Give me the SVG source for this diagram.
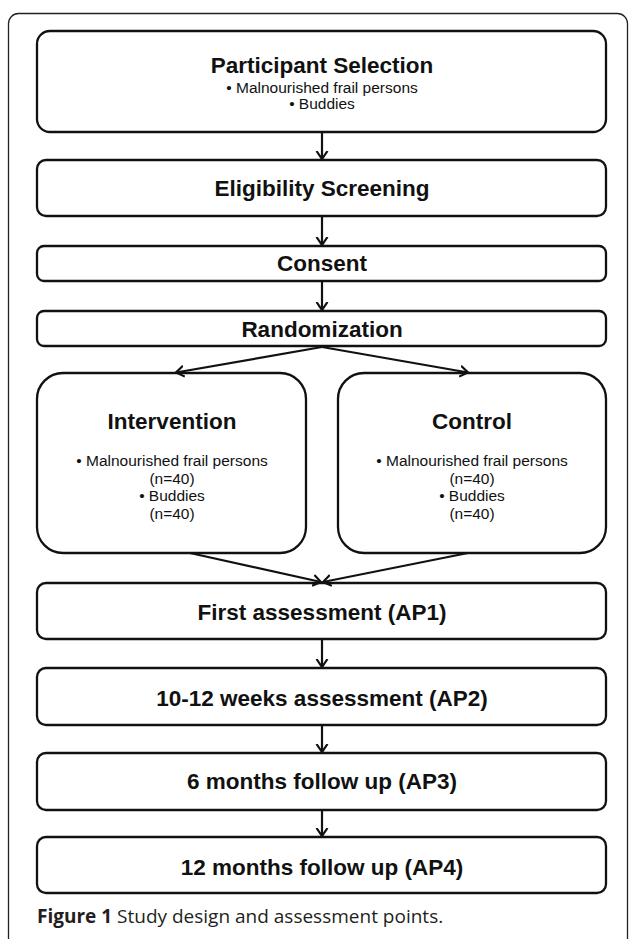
<svg xmlns="http://www.w3.org/2000/svg" width="629" height="939" viewBox="0 0 629 939">
<defs>
<marker id="ah" viewBox="-8 -8 16 16" markerWidth="16" markerHeight="16" refX="0" refY="0" orient="auto" markerUnits="userSpaceOnUse">
<path d="M-8,-5.5 L0,0 L-8,5.5" fill="none" stroke="#111" stroke-width="2.2" stroke-linejoin="miter"/>
</marker>
<style>
.box{fill:#fff;stroke:#111;stroke-width:2.3}
.t{font-family:"Liberation Sans",Arial,sans-serif;font-weight:bold;font-size:22.5px;fill:#111;text-anchor:middle}
.s{font-family:"Liberation Sans",Arial,sans-serif;font-size:15.5px;fill:#111;text-anchor:middle}
.c{stroke:#111;stroke-width:2.2;fill:none;marker-end:url(#ah)}
.cap{font-family:"Open Sans","Noto Sans",sans-serif;font-size:19px;fill:#231f20}
</style>
</defs>
<rect x="8.5" y="13.5" width="619" height="980" rx="10" fill="#fff" stroke="#222" stroke-width="1.3"/>
<g id="participant">
<rect class="box" x="37" y="31" width="569" height="101" rx="13"/>
<text class="t" x="322" y="73">Participant Selection</text>
<text class="s" x="322" y="92.5" font-size="15px">• Malnourished frail persons</text>
<text class="s" x="322" y="108.5" font-size="15px">• Buddies</text>
</g>
<g id="eligibility">
<rect class="box" x="37" y="160" width="569" height="56" rx="9"/>
<text class="t" x="322" y="196">Eligibility Screening</text>
</g>
<g id="consent">
<rect class="box" x="37" y="246" width="569" height="35" rx="7"/>
<text class="t" x="322" y="271">Consent</text>
</g>
<g id="randomization">
<rect class="box" x="37" y="311" width="569" height="35" rx="7"/>
<text class="t" x="322" y="336.5">Randomization</text>
</g>
<g id="intervention">
<rect class="box" x="37" y="373" width="269" height="180" rx="26"/>
<text class="t" x="172" y="429">Intervention</text>
<text class="s" x="172" y="466">• Malnourished frail persons</text>
<text class="s" x="172" y="483.5">(n=40)</text>
<text class="s" x="172" y="501">• Buddies</text>
<text class="s" x="172" y="518.5">(n=40)</text>
</g>
<g id="control">
<rect class="box" x="338" y="373" width="268" height="180" rx="26"/>
<text class="t" x="472" y="429">Control</text>
<text class="s" x="472" y="466">• Malnourished frail persons</text>
<text class="s" x="472" y="483.5">(n=40)</text>
<text class="s" x="472" y="501">• Buddies</text>
<text class="s" x="472" y="518.5">(n=40)</text>
</g>
<g id="ap1">
<rect class="box" x="37" y="583" width="569" height="56" rx="9"/>
<text class="t" x="322" y="619.5">First assessment (AP1)</text>
</g>
<g id="ap2">
<rect class="box" x="37" y="668" width="569" height="57" rx="9"/>
<text class="t" x="322" y="705.5">10-12 weeks assessment (AP2)</text>
</g>
<g id="ap3">
<rect class="box" x="37" y="753" width="569" height="57" rx="9"/>
<text class="t" x="322" y="789">6 months follow up (AP3)</text>
</g>
<g id="ap4">
<rect class="box" x="37" y="837" width="569" height="56" rx="9"/>
<text class="t" x="322" y="874.5">12 months follow up (AP4)</text>
</g>
<g id="connectors">
<path class="c" d="M322,132 L322,159"/>
<path class="c" d="M322,216 L322,245"/>
<path class="c" d="M322,281 L322,310"/>
<path class="c" d="M322,347 L176,372.5"/>
<path class="c" d="M322,347 L468,372.5"/>
<path class="c" d="M190,553 L321,582"/>
<path class="c" d="M468,553 L323,582"/>
<path class="c" d="M322,639 L322,667"/>
<path class="c" d="M322,725 L322,752"/>
<path class="c" d="M322,810 L322,836"/>
</g>
<text class="cap" x="37" y="923"><tspan font-weight="bold">Figure 1</tspan> Study design and assessment points.</text>
</svg>
